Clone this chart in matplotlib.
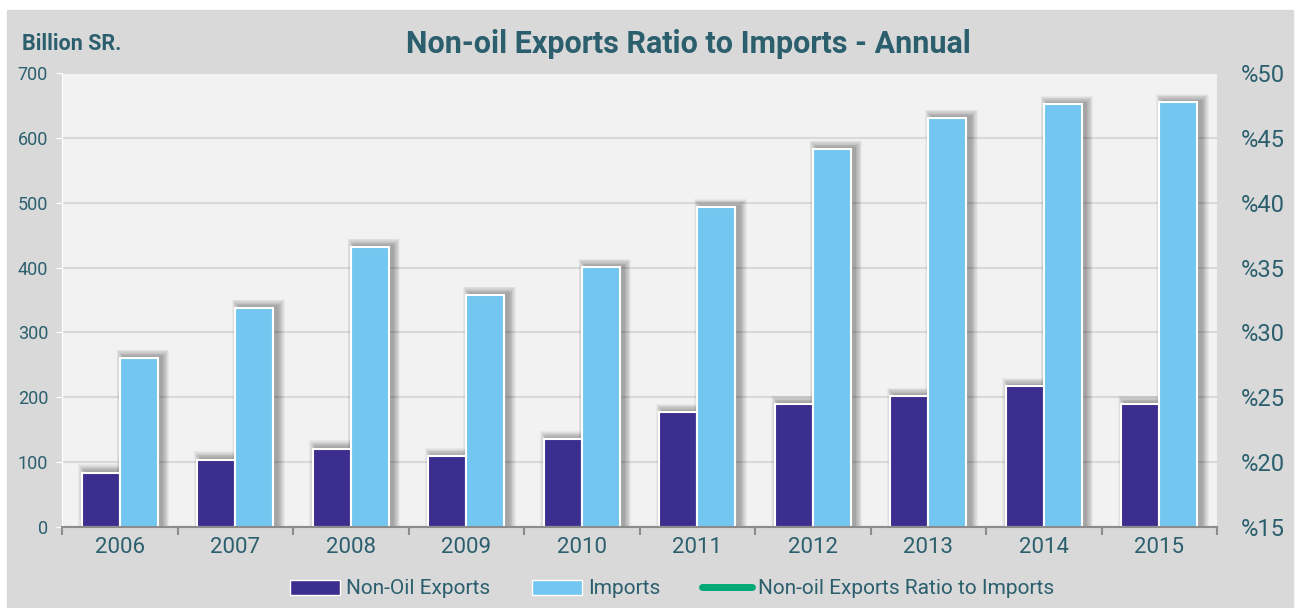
import matplotlib
matplotlib.use("Agg")
import matplotlib.pyplot as plt
from matplotlib.patches import Rectangle, Patch
from matplotlib.lines import Line2D
import numpy as np

# milliards de SR
annees = ["2006", "2007", "2008", "2009", "2010", "2011", "2012", "2013", "2014", "2015"]
export_hors_petrole = [84, 104, 121, 109, 135, 177, 190, 202, 217, 190]
importations = [261, 338, 432, 358, 401, 493, 583, 631, 652, 655]
ticks_gauche = [0, 100, 200, 300, 400, 500, 600, 700]
ticks_droite = [15, 20, 25, 30, 35, 40, 45, 50]

FOND, ZONE, GRILLE = "#d9d9d9", "#f2f2f2", "#d9d9d9"
VIOLET, CIEL, VERT = "#3b2e8f", "#72c6ef", "#00a878"
ENCRE = "#2b5f6e"

plt.rcParams.update({
    "font.family": ["Roboto", "DejaVu Sans"],
    "text.color": ENCRE,
    "xtick.color": "#8c8c8c", "ytick.color": ENCRE,
})

W, H = 1299, 608
fig = plt.figure(figsize=(W / 100, H / 100), dpi=100, facecolor="white")
fig.patches.append(Rectangle((7 / W, 0), 1286 / W, 598 / H,
                             transform=fig.transFigure, color=FOND, zorder=-10))

ax = fig.add_axes([62 / W, (H - 527) / H, 1155 / W, 454 / H])
ax.set_facecolor(ZONE)

x = np.arange(len(annees))
w = 0.33
# taille d'un pixel en unites de donnees (pour l'ombre portee)
px_x = len(annees) / 1155
px_y = 700 / 454

# ombre floue decalee vers la droite : couches superposees de plus en plus larges
for serie, dx in ((export_hors_petrole, -w / 2), (importations, w / 2)):
    haut = np.array(serie, float)
    for i in range(1, 10):
        ax.bar(x + dx + 4 * px_x, haut + (1 + 0.8 * i) * px_y, w + 1.6 * i * px_x,
               color="black", alpha=0.04, lw=0, zorder=2)

ax.bar(x - w / 2, export_hors_petrole, w, color=VIOLET, edgecolor="white", lw=1.5, zorder=3)
ax.bar(x + w / 2, importations, w, color=CIEL, edgecolor="white", lw=1.5, zorder=3)

ax.set_xlim(-0.5, len(annees) - 0.5)
ax.set_ylim(0, 700)
ax.set_yticks(ticks_gauche)
ax.set_yticklabels([str(t) for t in ticks_gauche], fontsize=13)
ax.set_xticks(x)
ax.set_xticklabels(annees, fontsize=16, color=ENCRE)
ax.tick_params(axis="x", length=0, pad=7)
ax.set_xticks(np.arange(len(annees) + 1) - 0.5, minor=True)
ax.tick_params(axis="x", which="minor", length=6, width=1.5, color="#8c8c8c")
ax.tick_params(axis="y", length=4, color="white", pad=6)
ax.grid(True, axis="y", color=GRILLE, lw=1.5)
ax.set_axisbelow(True)
for s in ("top", "right"):
    ax.spines[s].set_visible(False)
ax.spines["left"].set_color("white")
ax.spines["bottom"].set_color("#8c8c8c")
ax.spines["bottom"].set_linewidth(1.5)
ax.spines["bottom"].set_zorder(4)

ax2 = ax.twinx()
ax2.set_ylim(15, 50)
ax2.set_yticks(ticks_droite)
ax2.set_yticklabels([f"%{t}" for t in ticks_droite], fontsize=17)
ax2.tick_params(axis="y", length=0, pad=17)
for s in ax2.spines.values():
    s.set_visible(False)

fig.text(22 / W, 1 - 44 / H, "Billion SR.", fontsize=15.5, fontweight="bold",
         va="center", ha="left")
fig.text(688 / W, 1 - 44 / H, "Non-oil Exports Ratio to Imports - Annual",
         fontsize=22, fontweight="bold", va="center", ha="center")

poignees = [Patch(facecolor=VIOLET, edgecolor="white", lw=1),
            Patch(facecolor=CIEL, edgecolor="white", lw=1),
            Line2D([], [], color=VERT, lw=5, solid_capstyle="round")]
fig.legend(poignees, ["Non-Oil Exports", "Imports", "Non-oil Exports Ratio to Imports"],
           loc="center", bbox_to_anchor=(672 / W, 1 - 589 / H), ncol=3,
           frameon=False, fontsize=15, handlelength=2.4, handleheight=0.75,
           handletextpad=0.3, columnspacing=2.0)

fig.savefig("out.png", dpi=100, facecolor="white")
